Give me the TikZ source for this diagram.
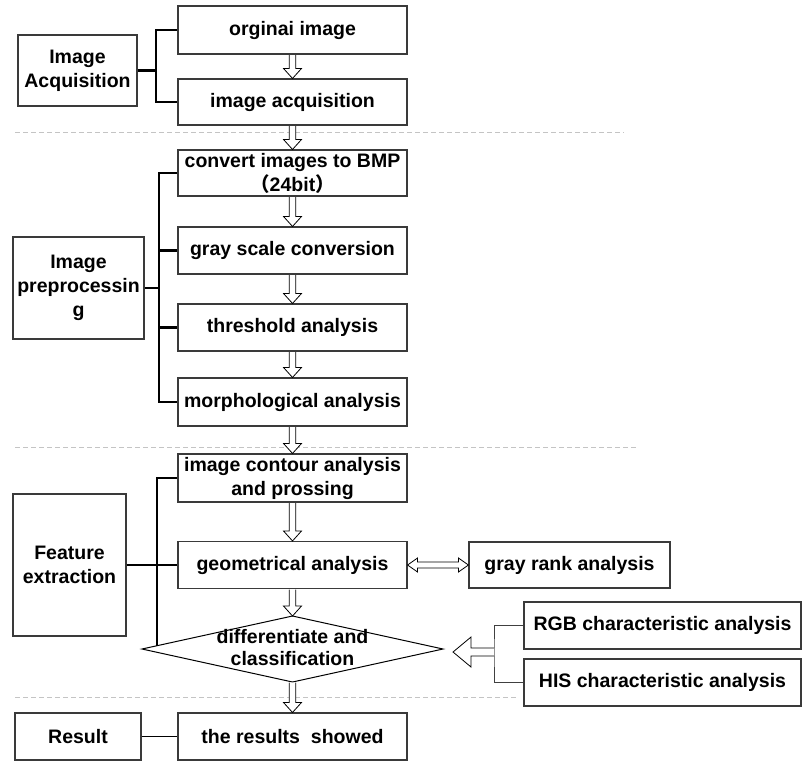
\documentclass[tikz,border=0pt]{standalone}
\usepackage{fontspec}
\setmainfont{Liberation Sans}
\newfontfamily\cjkfont{Noto Sans CJK SC}
\usetikzlibrary{calc}
\definecolor{boxc}{HTML}{3A3A3A}
\definecolor{dashc}{HTML}{C4C4C4}
\begin{document}
\begin{tikzpicture}[x=1pt,y=-1pt,
  box/.style={draw=boxc, line width=1.1pt, align=center, inner sep=0pt,
    font=\bfseries\fontsize{19.5}{24}\selectfont},
  brk/.style={line width=2.2pt, black},
  thinbrk/.style={line width=1pt, black!75},
  sep/.style={dashc, line width=1pt, dash pattern=on 5pt off 3pt},
  harrow/.style={draw=black, line width=0.8pt, fill=white, line join=miter},
  hdown/.style={to path={let \p1=(\tikztostart), \p2=(\tikztotarget) in
    (\x1-3.3pt,\y1-0.6pt) -- (\x1-3.3pt,\y2+10pt) -- (\x1-9pt,\y2+10pt) -- (\x1,\y2)
    -- (\x1+9pt,\y2+10pt) -- (\x1+3.3pt,\y2+10pt) -- (\x1+3.3pt,\y1-0.6pt)}},
  hboth/.style={to path={let \p1=(\tikztostart), \p2=(\tikztotarget) in
    (\x1,\y1) -- (\x1+10pt,\y1+7pt) -- (\x1+10pt,\y1+3pt) -- (\x2-10pt,\y1+3pt)
    -- (\x2-10pt,\y1+7pt) -- (\x2,\y1) -- (\x2-10pt,\y1-7pt) -- (\x2-10pt,\y1-3pt)
    -- (\x1+10pt,\y1-3pt) -- (\x1+10pt,\y1-7pt) -- cycle}},
  hleft/.style={to path={let \p1=(\tikztostart), \p2=(\tikztotarget) in
    (\x1,\y1+4pt) -- (\x2+18pt,\y1+4pt) -- (\x2+18pt,\y1+15pt) -- (\x2,\y1)
    -- (\x2+18pt,\y1-15pt) -- (\x2+18pt,\y1-4pt) -- (\x1,\y1-4pt)}},
]
\useasboundingbox (0,0) rectangle (802,761);

% separators
\coordinate (s1a) at (15,132);  \coordinate (s1b) at (624,132);
\coordinate (s2a) at (15,447);  \coordinate (s2b) at (637,447);
\coordinate (s3a) at (15,697);  \coordinate (s3b) at (518,697);
\draw[sep] (s1a) -- (s1b);
\draw[sep] (s2a) -- (s2b);
\draw[sep] (s3a) -- (s3b);

% main column
\node[box, minimum width=229pt, minimum height=48pt] (orig) at (292.5,30) {orginai image};
\node[box, minimum width=229pt, minimum height=46pt] (acq) at (292.5,102) {image acquisition};
\node[box, minimum width=229pt, minimum height=46pt] (conv) at (292.5,173) {convert images to BMP\\{\cjkfont （}24bit{\cjkfont ）}};
\node[box, minimum width=229pt, minimum height=47pt] (gray) at (292.5,250.5) {gray scale conversion};
\node[box, minimum width=229pt, minimum height=47pt] (thr) at (292.5,327.5) {threshold analysis};
\node[box, minimum width=229pt, minimum height=48pt] (morph) at (292.5,402) {morphological analysis};
\node[box, minimum width=229pt, minimum height=48pt] (cont) at (292.5,478) {image contour analysis\\and prossing};
\node[box, minimum width=229pt, minimum height=47pt] (geom) at (292.5,565) {geometrical analysis};
\node[box, minimum width=229pt, minimum height=47pt] (shown) at (292.5,736.5) {the results~ showed};

% diamond
\coordinate (dtop) at (292.5,616);
\coordinate (dright) at (443,649);
\coordinate (dbot) at (292.5,682);
\coordinate (dleft) at (142,649);
\draw[line width=1pt, black] (dtop) -- (dright) -- (dbot) -- (dleft) -- cycle;
\node[align=center, inner sep=0pt, font=\bfseries\fontsize{19.5}{22}\selectfont] (dtext) at (292.5,648) {differentiate and\\classification};

% left category boxes
\node[box, minimum width=119pt, minimum height=71pt] (ia) at (77.5,70.5) {Image\\Acquisition};
\node[box, minimum width=131pt, minimum height=102pt] (pre) at (78.5,288) {Image\\preprocessin\\g};
\node[box, minimum width=113pt, minimum height=142pt] (fe) at (69.5,565) {Feature\\extraction};
\node[box, minimum width=126pt, minimum height=47pt] (res) at (78,736.5) {Result};

% right boxes
\node[box, minimum width=201pt, minimum height=46pt] (grank) at (569.5,565) {gray rank analysis};
\node[box, minimum width=277pt, minimum height=47pt] (rgb) at (662.5,625.5) {RGB characteristic analysis};
\node[box, minimum width=277pt, minimum height=47pt] (his) at (662.5,682.5) {HIS characteristic analysis};

% brackets
\coordinate (b1) at (156,70.5);
\draw[brk] (orig.west) -| (b1) |- (acq.west);
\draw[brk] (ia.east) -- (b1);
\coordinate (b2) at (159,288);
\draw[brk] (conv.west) -| (b2) |- (morph.west);
\draw[brk] (pre.east) -- (b2);
\draw[brk] (b2 |- gray.west) -- (gray.west);
\draw[brk] (b2 |- thr.west) -- (thr.west);
\coordinate (b3) at (157,645.7);
\draw[brk] (cont.west) -| (b3);
\draw[brk] (fe.east) -- (geom.west);
\coordinate (rb) at (494,652);
\coordinate (la) at (453,652);
\draw[thinbrk] (rgb.west) -| (rb) |- (his.west);
\draw[line width=1pt, black] (res.east) -- (shown.west);

% hollow arrows
\draw[harrow] (orig.south) to[hdown] (acq.north);
\draw[harrow] (acq.south) to[hdown] (conv.north);
\draw[harrow] (conv.south) to[hdown] (gray.north);
\draw[harrow] (gray.south) to[hdown] (thr.north);
\draw[harrow] (thr.south) to[hdown] (morph.north);
\draw[harrow] (morph.south) to[hdown] (cont.north);
\draw[harrow] (cont.south) to[hdown] (geom.north);
\draw[harrow] (geom.south) to[hdown] (dtop);
\draw[harrow] (dbot) to[hdown] (shown.north);
\draw[harrow] (geom.east) to[hboth] (grank.west);
\draw[harrow] (rb) to[hleft] (la);
\end{tikzpicture}
\end{document}
